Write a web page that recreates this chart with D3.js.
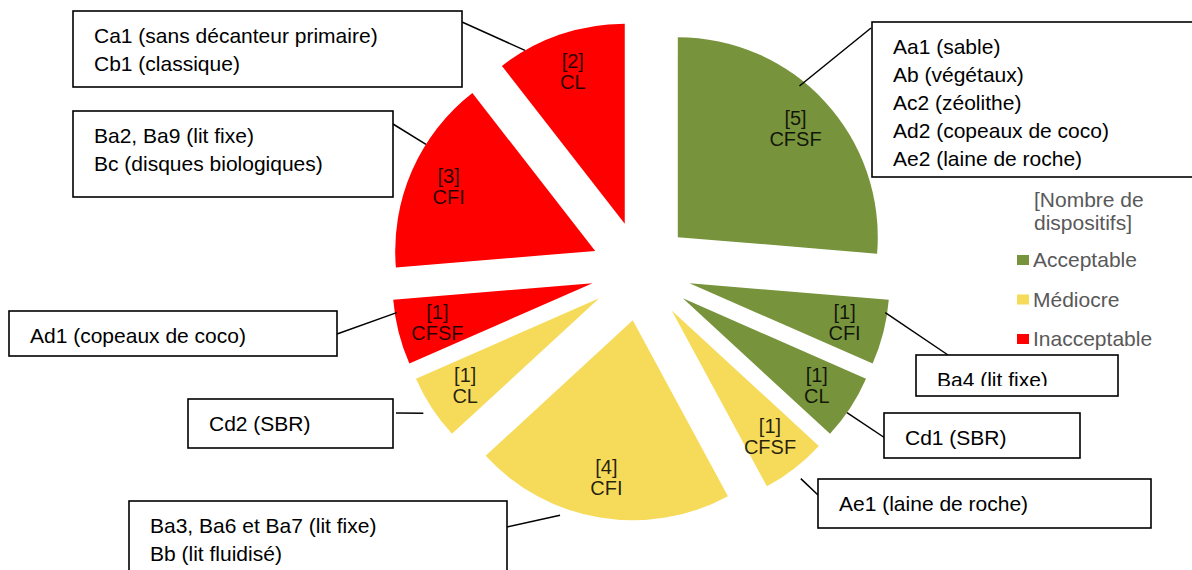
<!DOCTYPE html>
<html>
<head>
<meta charset="utf-8">
<script src="https://cdn.jsdelivr.net/npm/d3@7/dist/d3.min.js"></script>
<style>
body{margin:0;background:#fff;}
text{font-family:"Liberation Sans",Arial,sans-serif;}
</style>
</head>
<body>
<script>
// ratings (legend order)
const levels = ["Acceptable", "Médiocre", "Inacceptable"];

// slices, clockwise from 12 o'clock
const processes = ["CFSF", "CFI", "CL", "CFSF", "CFI", "CL", "CFSF", "CFI", "CL"];
const ratings = ["Acceptable", "Acceptable", "Acceptable", "Médiocre", "Médiocre", "Médiocre", "Inacceptable", "Inacceptable", "Inacceptable"];
const counts = [5, 1, 1, 1, 4, 1, 1, 3, 2];
const devices = [
    ["Aa1 (sable)", "Ab (végétaux)", "Ac2 (zéolithe)", "Ad2 (copeaux de coco)", "Ae2 (laine de roche)"],
    ["Ba4 (lit fixe)"],
    ["Cd1 (SBR)"],
    ["Ae1 (laine de roche)"],
    ["Ba3, Ba6 et Ba7 (lit fixe)", "Bb (lit fluidisé)"],
    ["Cd2 (SBR)"],
    ["Ad1 (copeaux de coco)"],
    ["Ba2, Ba9 (lit fixe)", "Bc (disques biologiques)"],
    ["Ca1 (sans décanteur primaire)", "Cb1 (classique)"]
];

// callout boxes: box [x,y,w,h], leader end on the box, leader start as fraction of slice angle / radius
const callouts = [
    {box: [872, 22, 330, 155], end: [871, 28], at: 0.41, rr: 0.97},
    {box: [916, 355, 202, 41], end: [948, 355], at: 0.2, rr: 0.99, clip: 31},
    {box: [884, 413, 196, 45], end: [885, 438], at: 0.59, rr: 1.0},
    {box: [818, 479, 333, 49], end: [818, 495], at: 0.52, rr: 1.06},
    {box: [129, 501, 378, 90], end: [507, 527], at: 0.645, rr: 1.04},
    {box: [188, 399, 205, 49], end: [396, 413], at: 0.5, rr: 1.05},
    {box: [9, 311, 328, 45], end: [337, 334], at: 0.8, rr: 0.99},
    {box: [73, 111, 320, 86], end: [393, 124], at: 0.65, rr: 1.0},
    {box: [73, 11, 389, 76], end: [462, 22], at: 0.21, rr: 1.0}
];

function main(){
    const width = 1192;
    const height = 570;
    const cx = 641, cy = 271;
    const radius = 200;
    const explode = 50;

    const svg = d3.select("body").append("svg")
        .attr("width", width)
        .attr("height", height);

    const color = d3.scaleOrdinal()
        .domain(levels)
        .range(["#77933C", "#F6DB5B", "#FF0000"]);

    const data = counts.map((v, i) => ({value: v, process: processes[i], rating: ratings[i], devices: devices[i]}));

    const pie = d3.pie().sort(null).value(d => d.value);
    const arcs = pie(data);

    const arc = d3.arc().innerRadius(0).outerRadius(radius);
    const labelArc = d3.arc().innerRadius(radius * 0.8).outerRadius(radius * 0.8);

    function apex(d){
        const a = (d.startAngle + d.endAngle) / 2;
        return [cx + explode * Math.sin(a), cy - explode * Math.cos(a)];
    }

    const slice = svg.selectAll(".slice")
        .data(arcs)
        .enter().append("g")
        .attr("class", "slice")
        .attr("transform", d => "translate(" + apex(d) + ")");

    slice.append("path")
        .attr("d", arc)
        .attr("fill", d => color(d.data.rating));

    const lbl = slice.append("text")
        .attr("transform", d => "translate(" + labelArc.centroid(d) + ")")
        .attr("text-anchor", "middle")
        .attr("font-size", 20)
        .attr("fill", "#000")
        .attr("fill-opacity", 0.85);
    lbl.append("tspan").attr("x", 0).attr("y", -4).text(d => "[" + d.data.value + "]");
    lbl.append("tspan").attr("x", 0).attr("y", 17).text(d => d.data.process);

    // leader lines
    svg.selectAll(".leader")
        .data(arcs)
        .enter().append("line")
        .attr("class", "leader")
        .attr("x1", (d, i) => {
            const c = callouts[i];
            const a = d.startAngle + c.at * (d.endAngle - d.startAngle);
            return apex(d)[0] + c.rr * radius * Math.sin(a);
        })
        .attr("y1", (d, i) => {
            const c = callouts[i];
            const a = d.startAngle + c.at * (d.endAngle - d.startAngle);
            return apex(d)[1] - c.rr * radius * Math.cos(a);
        })
        .attr("x2", (d, i) => callouts[i].end[0])
        .attr("y2", (d, i) => callouts[i].end[1])
        .attr("stroke", "#000")
        .attr("stroke-width", 1.5);

    // callout boxes
    const box = svg.selectAll(".callout")
        .data(arcs)
        .enter().append("g")
        .attr("class", "callout")
        .attr("transform", (d, i) => "translate(" + callouts[i].box[0] + "," + callouts[i].box[1] + ")");

    box.append("rect")
        .attr("width", (d, i) => callouts[i].box[2])
        .attr("height", (d, i) => callouts[i].box[3])
        .attr("fill", "#fff")
        .attr("stroke", "#000")
        .attr("stroke-width", 1.6);

    box.each(function(d, i){
        const c = callouts[i];
        const g = d3.select(this);
        let holder = g;
        if(c.clip){
            const id = "clip" + i;
            svg.append("clipPath").attr("id", id)
                .append("rect").attr("x", 0).attr("y", 0).attr("width", c.box[2]).attr("height", c.clip);
            holder = g.append("g").attr("clip-path", "url(#" + id + ")");
        }
        holder.selectAll("text")
            .data(d.data.devices)
            .enter().append("text")
            .attr("x", 21)
            .attr("y", (t, j) => 32 + j * 28)
            .attr("font-size", 21)
            .attr("fill", "#000")
            .text(t => t);
    });

    // legend
    const legend = svg.append("g").attr("transform", "translate(1017,0)");
    legend.append("text").attr("x", 17).attr("y", 207).attr("font-size", 21).attr("fill", "#595959").text("[Nombre de");
    legend.append("text").attr("x", 17).attr("y", 230).attr("font-size", 21).attr("fill", "#595959").text("dispositifs]");

    const item = legend.selectAll(".item")
        .data(levels)
        .enter().append("g")
        .attr("class", "item")
        .attr("transform", (d, i) => "translate(0," + (260 + i * 39.5) + ")");
    item.append("rect")
        .attr("x", 0).attr("y", -5)
        .attr("width", 12).attr("height", 10)
        .attr("fill", d => color(d));
    item.append("text")
        .attr("x", 16).attr("y", 7)
        .attr("font-size", 21)
        .attr("fill", "#595959")
        .text(d => d);
}
main();
</script>
</body>
</html>
